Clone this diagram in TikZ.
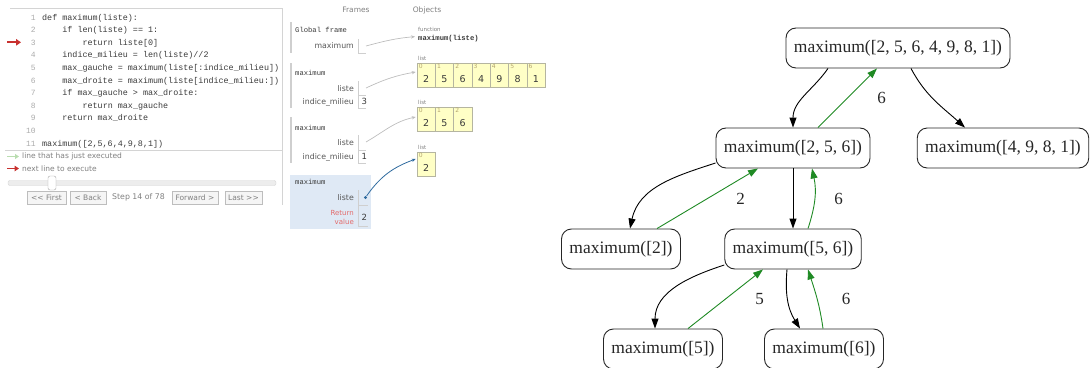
\documentclass[tikz,border=0pt]{standalone}
\usepackage{fontspec}
\setmainfont{Liberation Serif}
\newfontfamily\uisans{DejaVu Sans}
\newfontfamily\uimono{Liberation Mono}
\usetikzlibrary{arrows.meta}

\definecolor{codetext}{HTML}{3A3A3A}
\definecolor{lineno}{HTML}{ABABAB}
\definecolor{nextred}{HTML}{C8312F}
\definecolor{donegreen}{HTML}{B9DDB0}
\definecolor{uigray}{HTML}{808080}
\definecolor{uiline}{HTML}{D4D4D4}
\definecolor{btnfill}{HTML}{F5F5F5}
\definecolor{btnline}{HTML}{BDBDBD}
\definecolor{heapfill}{HTML}{FFFFC6}
\definecolor{heapline}{HTML}{B5B5A0}
\definecolor{idxcol}{HTML}{B3A46E}
\definecolor{framebar}{HTML}{CFCFCF}
\definecolor{activefill}{HTML}{DFE9F5}
\definecolor{retred}{HTML}{E36A6A}
\definecolor{ptrgray}{HTML}{BDBDBD}
\definecolor{ptrblue}{HTML}{2E6A9E}
\definecolor{retgreen}{HTML}{1F8A24}
\definecolor{treetext}{HTML}{262626}

\begin{document}
\begin{tikzpicture}[x=1pt,y=1pt,
  codeline/.style={font=\uimono\fontsize{8.4}{10}\selectfont, text=codetext, anchor=base west, inner sep=0pt},
  numline/.style={font=\uimono\fontsize{8}{10}\selectfont, text=lineno, anchor=base east, inner sep=0pt},
  uitext/.style={font=\uisans\fontsize{7.5}{9}\selectfont, text=uigray, inner sep=0pt},
  button/.style={draw=btnline, fill=btnfill, font=\uisans\fontsize{7.5}{9}\selectfont, text=uigray, minimum height=13pt, inner sep=1pt},
  fname/.style={font=\uimono\fontsize{7.2}{9}\selectfont, text=codetext, anchor=base west, inner sep=0pt},
  vname/.style={font=\uisans\fontsize{7.8}{9}\selectfont, text=codetext!85, anchor=base east, inner sep=0pt},
  vval/.style={font=\uisans\fontsize{8.5}{10}\selectfont, text=codetext, anchor=base west, inner sep=0pt},
  tiny/.style={font=\uisans\fontsize{5.5}{6}\selectfont, text=uigray, anchor=base west, inner sep=0pt},
  cell/.style={draw=heapline, fill=heapfill, line width=0.5pt, minimum width=18.3pt, minimum height=24pt, inner sep=0pt},
  idx/.style={font=\uisans\fontsize{6}{7}\selectfont, text=idxcol, inner sep=0pt, anchor=north west},
  cval/.style={font=\uisans\fontsize{9.5}{11}\selectfont, text=codetext, inner sep=0pt},
  vcell/.style={draw=framebar, line width=0.8pt},
  ptr/.style={draw=ptrgray, line width=0.7pt, -{Stealth[length=4pt,width=3.2pt]}},
  tn/.style={draw=black!85, line width=0.9pt, rounded corners=10pt, fill=white, minimum height=40pt, inner xsep=8pt, text=treetext, font=\fontsize{17.5}{20}\selectfont},
  call/.style={draw=black, line width=0.9pt, -{Triangle[length=10pt,width=7pt]}},
  ret/.style={draw=retgreen, line width=0.9pt, -{Triangle[length=10pt,width=7pt]}},
  lbl/.style={font=\fontsize{17}{20}\selectfont, text=treetext, inner sep=0pt}
]
\useasboundingbox (0,0) rectangle (1092,-367);

% ---------- code panel ----------
\draw[uiline, line width=0.6pt] (10,-8) -- (282,-8);
\draw[uiline, line width=0.6pt] (282,-8) -- (282,-205);
\draw[uiline, line width=0.6pt] (5,-150) -- (282,-150);

\node[numline] (n1)  at (36,-20)    {1};
\node[numline] (n2)  at (36,-32.6)  {2};
\node[numline] (n3)  at (36,-45.2)  {3};
\node[numline] (n4)  at (36,-57.8)  {4};
\node[numline] (n5)  at (36,-70.4)  {5};
\node[numline] (n6)  at (36,-83)    {6};
\node[numline] (n7)  at (36,-95.6)  {7};
\node[numline] (n8)  at (36,-108.2) {8};
\node[numline] (n9)  at (36,-120.8) {9};
\node[numline] (n10) at (36,-133.4) {10};
\node[numline] (n11) at (36,-146)   {11};

\node[codeline] (c1)  at (42,-20)    {def maximum(liste):};
\node[codeline] (c2)  at (62.2,-32.6)  {if len(liste) == 1:};
\node[codeline] (c3)  at (82.4,-45.2)  {return liste[0]};
\node[codeline] (c4)  at (62.2,-57.8)  {indice\_milieu = len(liste)//2};
\node[codeline] (c5)  at (62.2,-70.4)  {max\_gauche = maximum(liste[:indice\_milieu])};
\node[codeline] (c6)  at (62.2,-83)    {max\_droite = maximum(liste[indice\_milieu:])};
\node[codeline] (c7)  at (62.2,-95.6)  {if max\_gauche > max\_droite:};
\node[codeline] (c8)  at (82.4,-108.2) {return max\_gauche};
\node[codeline] (c9)  at (62.2,-120.8) {return max\_droite};
\node[codeline] (c11) at (42,-146)   {maximum([2,5,6,4,9,8,1])};

% next-line marker on line 3
\coordinate (nx0) at (7,-42.3);
\coordinate (nx1) at (21,-42.3);
\draw[nextred, line width=2.2pt, -{Triangle[length=5pt,width=6.5pt]}] (nx0) -- (nx1);

% legend
\coordinate (lg0) at (7,-156.5);
\coordinate (lg1) at (19,-156.5);
\draw[donegreen, line width=1.4pt, -{Triangle[length=4pt,width=5pt]}] (lg0) -- (lg1);
\node[uitext, anchor=west] (lgt1) at (22,-156.5) {line that has just executed};
\coordinate (lr0) at (7,-168.5);
\coordinate (lr1) at (19,-168.5);
\draw[nextred, line width=1.8pt, -{Triangle[length=4.5pt,width=5.5pt]}] (lr0) -- (lr1);
\node[uitext, anchor=west] (lgt2) at (22,-168.5) {next line to execute};

% slider
\node[draw=uiline, fill=black!7, rounded corners=2pt, minimum width=268pt, minimum height=5pt, inner sep=0pt] (track) at (142,-183) {};
\node[draw=black!35, fill=white, rounded corners=2pt, minimum width=8pt, minimum height=14pt, inner sep=0pt] (knob) at (52,-183) {};

% navigation buttons
\node[button, minimum width=39pt] (bfirst) at (46.5,-197.5) {<< First};
\node[button, minimum width=36pt] (bback) at (88,-197.5) {< Back};
\node[uitext, font=\uisans\fontsize{7.8}{9}\selectfont] (bstep) at (138.5,-197.5) {Step 14 of 78};
\node[button, minimum width=46pt] (bfwd) at (195,-197.5) {Forward >};
\node[button, minimum width=37pt] (blast) at (243.5,-197.5) {Last >>};

% ---------- frames and objects ----------
\node[uitext] (hframes) at (356,-10) {Frames};
\node[uitext] (hobjects) at (427,-10) {Objects};

% global frame
\draw[framebar, line width=1.2pt] (291,-22) -- (291,-53);
\node[fname] (gf) at (295,-32.5) {Global frame};
\node[vname] (gmax) at (354,-48.5) {maximum};
\draw[vcell] (358.5,-39) -- (358.5,-53) -- (366,-53);
\coordinate (gdot) at (366,-46);
\node[tiny] (ftag) at (418,-31) {function};
\node[fname, font=\uimono\bfseries\fontsize{7.2}{9}\selectfont] (fobj) at (418,-40.5) {maximum(liste)};
\draw[ptr] (gdot) to[out=15,in=185] ([xshift=-3pt,yshift=2pt]fobj.west);

% frame for the full list
\draw[framebar, line width=1.2pt] (291,-63) -- (291,-108);
\node[fname] (f1) at (295,-75) {maximum};
\node[vname] (f1l) at (354,-91) {liste};
\node[vname] (f1m) at (354,-104) {indice\_milieu};
\draw[vcell] (358.5,-81) -- (358.5,-95) -- (366,-95);
\draw[vcell] (358.5,-95) -- (358.5,-108) -- (366,-108);
\node[vval] (f1mv) at (361.5,-104.5) {3};
\coordinate (f1dot) at (366,-88);

\node[tiny] (l1tag) at (418,-60) {list};
\foreach \v [count=\i from 0] in {2,5,6,4,9,8,1} {
  \node[cell] (a\i) at ({426.15+18.3*\i},-75) {};
  \node[idx] (ai\i) at ([xshift=1.8pt,yshift=-1.5pt]a\i.north west) {\i};
  \node[cval] (av\i) at ([yshift=-4pt]a\i.center) {\v};
}
\draw[ptr] (f1dot) to[out=25,in=190] ([xshift=-1pt,yshift=3pt]a0.west);

% frame for [2, 5, 6]
\draw[framebar, line width=1.2pt] (291,-117) -- (291,-163);
\node[fname] (f2) at (295,-130) {maximum};
\node[vname] (f2l) at (354,-145) {liste};
\node[vname] (f2m) at (354,-159) {indice\_milieu};
\draw[vcell] (358.5,-135) -- (358.5,-150) -- (366,-150);
\draw[vcell] (358.5,-150) -- (358.5,-163) -- (366,-163);
\node[vval] (f2mv) at (361.5,-159.5) {1};
\coordinate (f2dot) at (366,-142);

\node[tiny] (l2tag) at (418,-104.5) {list};
\foreach \v [count=\i from 0] in {2,5,6} {
  \node[cell] (b\i) at ({426.15+18.3*\i},-119) {};
  \node[idx] (bi\i) at ([xshift=1.8pt,yshift=-1.5pt]b\i.north west) {\i};
  \node[cval] (bv\i) at ([yshift=-4pt]b\i.center) {\v};
}
\draw[ptr] (f2dot) to[out=30,in=192] ([xshift=-1pt,yshift=2pt]b0.west);

% active frame for [2]
\node[fill=activefill, minimum width=81pt, minimum height=54pt, inner sep=0pt] (f3box) at (330.5,-202) {};
\node[fname] (f3) at (295,-184.5) {maximum};
\node[vname] (f3l) at (354,-200.5) {liste};
\node[vname, font=\uisans\fontsize{7}{9}\selectfont, text=retred, align=right, anchor=east] (f3r) at (354,-217) {Return\\value};
\draw[vcell] (358.5,-190) -- (358.5,-205) -- (368,-205);
\draw[vcell] (358.5,-205) -- (358.5,-226) -- (368,-226);
\node[vval] (f3rv) at (361.5,-220) {2};
\node[circle, fill=ptrblue, minimum size=3.4pt, inner sep=0pt] (f3dot) at (365.5,-197.5) {};

\node[tiny] (l3tag) at (418,-149.5) {list};
\node[cell] (c0cell) at (426.15,-164) {};
\node[idx] (ci0) at ([xshift=1.8pt,yshift=-1.5pt]c0cell.north west) {0};
\node[cval] (cv0) at ([yshift=-4pt]c0cell.center) {2};
\draw[ptr, draw=ptrblue, line width=0.8pt] (f3dot) to[out=55,in=200] ([xshift=-1pt,yshift=5pt]c0cell.west);

% ---------- recursion tree ----------
\node[tn] (root) at (898,-48)  {maximum([2, 5, 6, 4, 9, 8, 1])};
\node[tn] (t1)   at (793,-148) {maximum([2, 5, 6])};
\node[tn] (t2)   at (1003,-148) {maximum([4, 9, 8, 1])};
\node[tn] (t3)   at (621,-249) {maximum([2])};
\node[tn] (t4)   at (793,-249) {maximum([5, 6])};
\node[tn] (t5)   at (663,-349) {maximum([5])};
\node[tn] (t6)   at (824,-349) {maximum([6])};

% calls
\draw[call] ([xshift=-70pt]root.south) to[out=-125,in=90] (t1.north);
\draw[call] ([xshift=13pt]root.south) to[out=-62,in=138] ([xshift=-38pt]t2.north);
\draw[call] ([yshift=-15pt]t1.west) to[out=198,in=78] ([xshift=9pt]t3.north);
\draw[call] (t1.south) -- (t4.north);
\draw[call] ([yshift=-16pt]t4.west) to[out=198,in=90] ([xshift=-8pt]t5.north);
\draw[call] ([xshift=-6pt]t4.south) to[out=-95,in=122] ([xshift=-24pt]t6.north);

% returned values
\draw[ret] ([xshift=25pt]t1.north) -- node[lbl, xshift=34pt] {6} ([xshift=-21pt]root.south);
\draw[ret] ([xshift=36pt]t3.north) -- node[lbl, xshift=33pt] {2} ([xshift=-35pt]t1.south);
\draw[ret] ([xshift=15pt]t4.north) to[out=72,in=-78] node[lbl, xshift=24pt] {6} ([xshift=19pt]t1.south);
\draw[ret] ([xshift=25pt]t5.north) -- node[lbl, xshift=34pt] {5} ([xshift=-30pt]t4.south);
\draw[ret] ([xshift=-1pt]t6.north) to[out=98,in=-72] node[lbl, xshift=29pt] {6} ([xshift=15pt]t4.south);
\end{tikzpicture}
\end{document}
